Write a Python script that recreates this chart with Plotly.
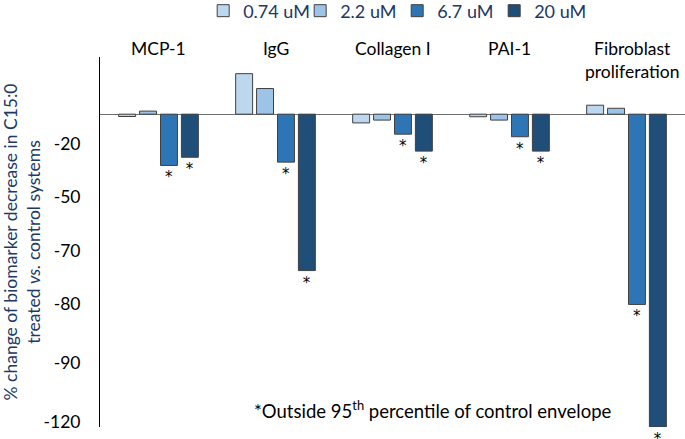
import plotly.graph_objects as go

# ---- data ----
categories = ["MCP-1", "IgG", "Collagen I", "PAI-1", "Fibroblast proliferation"]
category_labels = ["MCP-1", "IgG", "Collagen I", "PAI-1", "Fibroblast<br>proliferation"]
series_names = ["0.74 uM", "2.2 uM", "6.7 uM", "20 uM"]

values_074 = [-0.9, 15.8, -3.4, -1.0, 3.5]
values_22 = [1.2, 10.0, -2.3, -2.3, 2.3]
values_67 = [-20.0, -18.7, -7.8, -8.8, -74.2]
values_20 = [-16.8, -61.0, -14.4, -14.4, -122.0]

# significance markers (outside 95th percentile of control envelope)
sig_074 = ["", "", "", "", ""]
sig_22 = ["", "", "", "", ""]
sig_67 = ["*", "*", "*", "*", "*"]
sig_20 = ["*", "*", "*", "*", "*"]

# y-axis tick labels as printed on the reference, and where they sit
tick_text = ["-20", "-50", "-70", "-80", "-90", "-120"]
tick_vals = [-11.7, -32.3, -53.3, -74.1, -97.1, -120.0]

colors = ["#BDD7EE", "#9DC3E6", "#2E75B6", "#1F4E79"]

FONT = "Lato"
all_values = [values_074, values_22, values_67, values_20]
all_sig = [sig_074, sig_22, sig_67, sig_20]

fig = go.Figure()
for name, vals, sig, col in zip(series_names, all_values, all_sig, colors):
    has_sig = any(s for s in sig)
    kwargs = {}
    if has_sig:
        kwargs = dict(
            text=sig, textposition="outside",
            textfont=dict(family="DejaVu Sans", size=15, color="#000000"),
        )
    fig.add_trace(go.Bar(
        name=name,
        x=categories,
        y=vals,
        cliponaxis=False,
        marker=dict(color=col, line=dict(color="#404040", width=1)),
        **kwargs,
    ))

annotations = []
for cat, lab in zip(categories, category_labels):
    two_line = "<br>" in lab
    annotations.append(dict(
        x=cat, xref="x", y=1, yref="paper", yanchor="top", yshift=21,
        xshift=5 if two_line else 0,
        text=lab, showarrow=False,
        font=dict(family=FONT, size=17.5, color="#000000"),
    ))
annotations.append(dict(
    x=0.569, xref="paper", y=0.046, yref="paper",
    text="*Outside 95<sup>th</sup> percentile of control envelope",
    showarrow=False, xanchor="center", yanchor="middle",
    font=dict(family=FONT, size=18.5, color="#000000"),
))

fig.update_layout(
    width=685, height=439,
    margin=dict(l=100, r=0, t=57, b=12),
    paper_bgcolor="white", plot_bgcolor="white",
    barmode="group", bargap=0.285, bargroupgap=0.19,
    showlegend=True,
    legend=dict(
        orientation="h", x=0.508, xanchor="center",
        yref="container", y=0.975, yanchor="middle",
        font=dict(family=FONT, size=18, color="#203864"),
        itemwidth=30, entrywidth=52,
    ),
    annotations=annotations,
    font=dict(family=FONT),
)
fig.update_xaxes(
    type="category", showticklabels=False, showline=False, showgrid=False,
    zeroline=False, ticks="",
)
fig.update_yaxes(
    range=[-122.0, 22.3],
    tickvals=tick_vals, ticktext=tick_text,
    tickfont=dict(family=FONT, size=17.5, color="#000000"),
    ticks="", ticklabelstandoff=15,
    showline=True, linecolor="#000000", linewidth=1,
    showgrid=False,
    zeroline=True, zerolinecolor="#6f6f6f", zerolinewidth=1,
    title=dict(
        text="% change of biomarker decrease in C15:0<br>treated <i>vs.</i> control systems",
        font=dict(family=FONT, size=17.5, color="#203864"),
        standoff=8,
    ),
    automargin=True,
)

fig.write_html(
    "out.html",
    config={"displayModeBar": False},
    post_script="document.body.style.margin='0px';document.body.style.overflow='hidden';",
)
